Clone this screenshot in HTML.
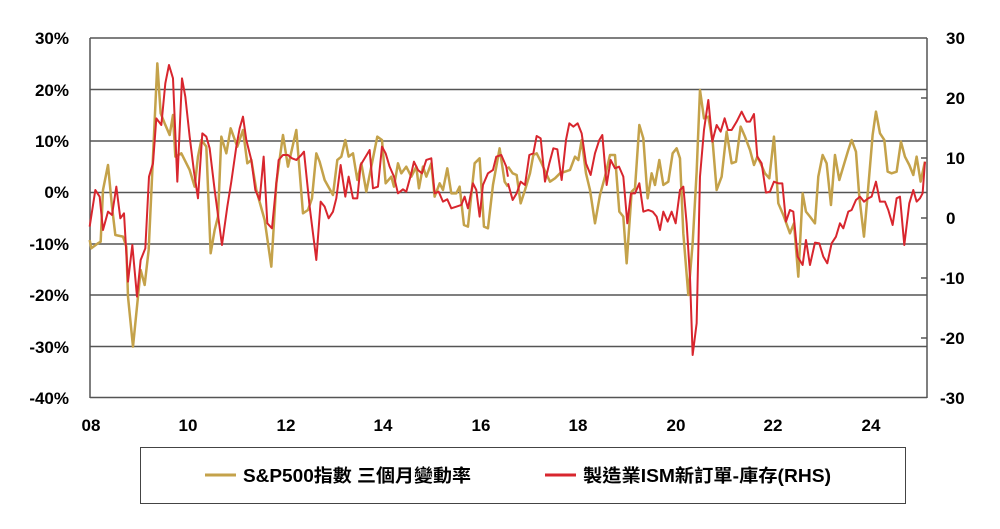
<!DOCTYPE html>
<html><head><meta charset="utf-8"><style>
body{margin:0;background:#fff;}
svg text{font-family:"Liberation Sans","Noto Sans CJK TC",sans-serif;font-weight:bold;fill:#000;}
</style></head><body>
<svg width="1000" height="524" viewBox="0 0 1000 524" xmlns="http://www.w3.org/2000/svg">
<g stroke="#555" stroke-width="1.5">
<line x1="90" y1="38" x2="927" y2="38"/>
<line x1="90" y1="89.5" x2="927" y2="89.5"/>
<line x1="90" y1="141" x2="927" y2="141"/>
<line x1="90" y1="192.5" x2="927" y2="192.5"/>
<line x1="90" y1="244" x2="927" y2="244"/>
<line x1="90" y1="295" x2="927" y2="295"/>
<line x1="90" y1="346.5" x2="927" y2="346.5"/>
<line x1="90" y1="397.5" x2="927" y2="397.5"/>
<line x1="90" y1="38" x2="90" y2="398"/>
<line x1="927" y1="38" x2="927" y2="398"/>
</g>
<g stroke="#555" stroke-width="1.5">
<line x1="921" y1="98" x2="927" y2="98"/><line x1="921" y1="158" x2="927" y2="158"/><line x1="921" y1="218" x2="927" y2="218"/><line x1="921" y1="278" x2="927" y2="278"/><line x1="921" y1="338" x2="927" y2="338"/>
</g>
<g fill="none" stroke-linejoin="round">
<polyline transform="translate(88,30) scale(0.3333)" vector-effect="non-scaling-stroke" stroke="#C4A24A" stroke-width="2.5" points="5,630 10,655 30,640 38,635 45,480 60,405 72,530 82,615 105,620 115,650 120,800 135,950 150,800 158,720 170,765 182,660 195,380 208,100 218,250 230,280 245,315 255,255 262,380 280,370 305,420 320,470 330,380 340,330 355,350 368,670 380,600 390,560 400,320 415,370 428,295 448,350 465,300 478,400 490,390 505,480 530,570 550,710 565,460 585,315 600,410 625,300 645,550 660,540 672,505 685,370 695,395 710,450 735,495 748,390 760,380 772,330 782,380 795,370 808,450 820,400 835,485 850,410 868,320 882,330 893,460 910,440 918,470 930,400 940,430 955,410 970,440 985,410 993,475 1005,410 1015,440 1030,400 1040,500 1055,460 1065,480 1078,415 1090,490 1105,490 1115,470 1128,585 1140,590 1160,400 1175,385 1188,590 1200,595 1215,465 1235,355 1250,455 1260,470"/>
<polyline transform="translate(500,30) scale(0.3333)" vector-effect="non-scaling-stroke" stroke="#C4A24A" stroke-width="2.5" points="24,410 38,430 50,435 62,520 75,480 90,430 100,375 110,370 125,400 138,430 150,455 165,445 180,430 195,425 210,420 225,380 235,390 245,330 258,430 270,480 285,580 300,495 315,440 330,375 345,375 358,545 370,560 380,700 395,485 405,475 418,285 430,325 443,505 455,430 465,465 478,390 490,465 505,455 518,370 530,355 540,385 550,610 565,795 578,640 590,425 600,180 612,265 625,260 638,335 650,480 665,440 680,305 695,400 708,395 722,290 735,320 750,360 762,405 772,380 782,400 795,430 808,445 822,320 835,520 850,555 870,610 882,580 895,740 908,490 918,545 930,560 945,580 955,440 968,375 980,400 993,525 1005,375 1018,450 1030,410 1045,360 1055,330 1068,365 1078,500 1092,620 1105,470 1118,315 1128,245 1140,310 1153,330 1163,425 1175,430 1190,425 1203,335 1215,380 1228,405 1240,435 1250,380 1262,455 1275,395"/>
<polyline transform="translate(88,30) scale(0.3333)" vector-effect="non-scaling-stroke" stroke="#D8262E" stroke-width="2" points="5,590 22,480 35,500 45,600 60,545 72,555 85,470 97,565 108,550 120,755 133,645 147,800 158,690 172,655 183,440 195,400 205,265 220,285 232,160 243,105 255,145 268,455 282,145 292,200 305,320 318,425 330,505 343,310 355,320 365,355 380,480 402,645 418,530 430,455 445,350 455,295 465,260 475,330 490,390 502,480 515,510 527,380 538,580 552,595 572,390 585,375 600,375 612,385 625,390 640,375 648,365 665,530 685,690 698,515 710,530 722,565 735,545 745,505 758,405 772,500 782,440 795,505 808,505 818,405 845,360 855,475 870,470 882,350 893,370 905,410 918,440 930,490 945,478 955,485 970,430 978,395 990,420 1002,430 1015,390 1030,385 1040,490 1052,485 1065,515 1078,508 1090,535 1105,530 1120,525 1130,500 1140,535 1155,460 1165,480 1175,560 1185,465 1200,430 1215,420 1225,380 1240,375 1255,410 1260,440"/>
<polyline transform="translate(500,30) scale(0.3333)" vector-effect="non-scaling-stroke" stroke="#D8262E" stroke-width="2" points="24,460 38,510 50,490 62,455 75,465 88,375 100,370 110,318 122,325 135,455 148,400 160,355 172,358 185,450 198,330 208,280 220,290 233,280 245,310 258,400 272,435 285,370 298,330 307,315 320,465 332,390 345,415 357,410 370,440 382,580 393,490 405,490 418,460 430,545 445,540 458,545 470,560 480,600 490,545 503,575 515,545 527,580 540,480 550,470 560,580 570,740 578,975 590,880 600,440 612,300 625,210 637,335 650,285 662,305 674,265 684,300 695,300 710,275 725,245 740,275 750,275 762,252 772,380 785,400 798,488 810,485 822,455 835,460 847,460 858,575 870,540 880,545 893,680 908,705 918,630 930,705 945,638 958,640 970,680 982,700 995,640 1008,620 1020,580 1030,595 1045,545 1055,540 1068,510 1080,500 1092,515 1105,505 1115,500 1128,455 1140,515 1155,515 1165,540 1178,585 1190,505 1200,500 1213,645 1228,520 1240,480 1250,515 1260,505 1268,490 1275,395"/>
</g>
<g font-size="17" text-anchor="end">
<text x="69" y="44">30%</text><text x="69" y="96">20%</text><text x="69" y="147">10%</text><text x="69" y="198">0%</text><text x="69" y="250">-10%</text><text x="69" y="301">-20%</text><text x="69" y="353">-30%</text><text x="69" y="404">-40%</text>
</g>
<g font-size="17" text-anchor="start">
<text x="946" y="44">30</text><text x="946" y="104">20</text><text x="946" y="164">10</text><text x="946" y="224">0</text><text x="940" y="284">-10</text><text x="940" y="344">-20</text><text x="940" y="404">-30</text>
</g>
<g font-size="17" text-anchor="middle">
<text x="91" y="431">08</text><text x="188" y="431">10</text><text x="286" y="431">12</text><text x="383" y="431">14</text><text x="481" y="431">16</text><text x="578" y="431">18</text><text x="676" y="431">20</text><text x="773" y="431">22</text><text x="871" y="431">24</text>
</g>
<rect x="140.5" y="447.5" width="765" height="56" fill="none" stroke="#444" stroke-width="1"/>
<line x1="205" y1="475" x2="236" y2="475" stroke="#C4A24A" stroke-width="3"/>
<text x="243" y="482" font-size="18" textLength="228" lengthAdjust="spacingAndGlyphs">S&amp;P500指數 三個月變動率</text>
<line x1="545" y1="475" x2="576" y2="475" stroke="#D8262E" stroke-width="3"/>
<text x="583" y="482" font-size="18" textLength="248" lengthAdjust="spacingAndGlyphs">製造業ISM新訂單-庫存(RHS)</text>
</svg>
</body></html>
